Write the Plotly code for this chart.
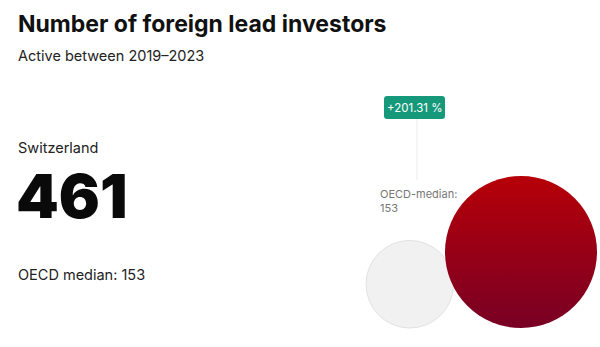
import plotly.graph_objects as go

# Values
country = "Switzerland"
country_value = 461
median_label = "OECD median"
median_value = 153
title = "Number of foreign lead investors"
subtitle = "Active between 2019–2023"

W, H = 600, 347
pct = (country_value - median_value) / median_value * 100

# Bubble layout (pixel space, y grows downward)
big_d = 152                       # diameter of the larger bubble
baseline = 328                    # bubbles sit on a common bottom line
left_edge, right_edge = 366, 597
d_country = big_d * (country_value / max(country_value, median_value)) ** 0.5
d_median = big_d * (median_value / max(country_value, median_value)) ** 0.5
x_median = left_edge + d_median / 2
x_country = right_edge - d_country / 2
y_median = baseline - d_median / 2
y_country = baseline - d_country / 2

fig = go.Figure()

# median bubble
fig.add_trace(go.Scatter(
    x=[x_median], y=[y_median], mode="markers",
    marker=dict(size=[d_median], sizemode="diameter", color="#f1f1f2", opacity=1,
                line=dict(color="#e2e2e4", width=1)),
    hoverinfo="skip", showlegend=False))

# country bubble with vertical gradient
fig.add_trace(go.Scatter(
    x=[x_country], y=[y_country], mode="markers",
    marker=dict(size=[d_country], sizemode="diameter", color="#b60008", opacity=1,
                gradient=dict(type="vertical", color="#780024"),
                line=dict(width=0)),
    hoverinfo="skip", showlegend=False))

def px(x):
    return x / W

def py(y):
    return 1 - y / H

# rounded badge behind the percentage label
bx0, bx1, by0, by1, r = 384, 445, 96, 119, 3
badge_path = (f"M{bx0+r},{by0} L{bx1-r},{by0} Q{bx1},{by0} {bx1},{by0+r} "
              f"L{bx1},{by1-r} Q{bx1},{by1} {bx1-r},{by1} L{bx0+r},{by1} "
              f"Q{bx0},{by1} {bx0},{by1-r} L{bx0},{by0+r} Q{bx0},{by0} {bx0+r},{by0} Z")

ann = []
ann.append(dict(text=f"<b>{title}</b>", x=px(16), y=py(24), xanchor="left", yanchor="middle",
                font=dict(family="Inter", size=23, color="#111111")))
ann.append(dict(text=subtitle, x=px(16), y=py(55), xanchor="left", yanchor="middle",
                font=dict(family="Inter", size=14.5, color="#222222")))
ann.append(dict(text=country, x=px(16), y=py(148), xanchor="left", yanchor="middle",
                font=dict(family="Inter", size=14.5, color="#222222")))
ann.append(dict(text=f"{country_value}", x=px(14), y=py(196), xanchor="left", yanchor="middle",
                font=dict(family="Inter", size=61, color="#0a0a0a", weight=900)))
ann.append(dict(text=f"{median_label}: {median_value}", x=px(16), y=py(274), xanchor="left", yanchor="middle",
                font=dict(family="Inter", size=14.5, color="#222222")))
ann.append(dict(text=f"OECD-median:<br>{median_value}", x=px(378), y=py(201), xanchor="left", yanchor="middle",
                align="left", font=dict(family="Inter", size=11, color="#777777")))
ann.append(dict(text=f"+{pct:.2f} %", x=px(414.5), y=py(107.5), xanchor="center", yanchor="middle",
                font=dict(family="Inter", size=11.5, color="#ffffff")))
for a in ann:
    a.update(xref="paper", yref="paper", showarrow=False)

fig.update_layout(
    width=W, height=H, margin=dict(l=0, r=0, t=0, b=0),
    paper_bgcolor="white", plot_bgcolor="white",
    xaxis=dict(range=[0, W], visible=False, fixedrange=True),
    yaxis=dict(range=[H, 0], visible=False, fixedrange=True),
    annotations=ann,
    shapes=[
        dict(type="line", xref="x", yref="y", x0=417, x1=417, y0=119, y1=180,
             line=dict(color="#ececec", width=1), layer="below"),
        dict(type="path", xref="x", yref="y", path=badge_path,
             fillcolor="#16997a", line=dict(width=0), layer="above"),
    ],
)

fig.write_html("out.html")
